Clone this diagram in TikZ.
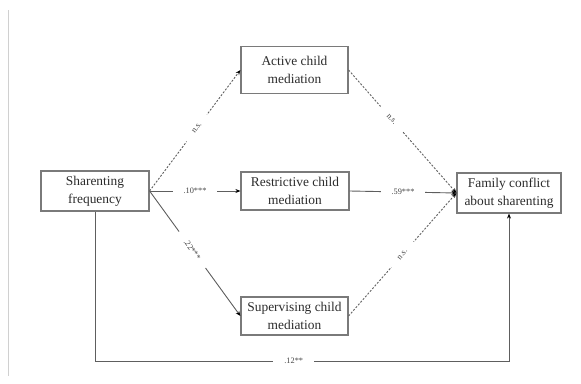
\documentclass[tikz,border=0pt]{standalone}
\usepackage{fontspec}
\setmainfont{Liberation Serif}
\usetikzlibrary{arrows.meta}
\definecolor{boxgrey}{HTML}{7A7A7A}
\definecolor{linegrey}{HTML}{5E5E5E}
\definecolor{textdark}{HTML}{2B2B2B}
\definecolor{labgrey}{HTML}{444444}
\definecolor{rulegrey}{HTML}{D0D0D0}
\begin{document}
\begin{tikzpicture}[x=1pt,y=-1pt,
  varbox/.style={draw=boxgrey, line width=1.2pt, fill=white, align=center,
    inner sep=0pt, text=textdark, font=\fontsize{13.4}{18}\selectfont},
  effect/.style={draw=linegrey, line width=0.9pt,
    -{Stealth[length=5pt,width=4pt,black]}},
  nsline/.style={effect, dash pattern=on 2pt off 1.6pt},
  coef/.style={fill=white, inner xsep=11pt, inner ysep=1.5pt,
    font=\fontsize{8.3}{9}\selectfont, text=labgrey},
]
\useasboundingbox (0,0) rectangle (581,383);

% page margin rule
\draw[rulegrey, line width=0.8pt] (8,10) -- (8,376);

% variables
\node[varbox, minimum width=108pt, minimum height=40pt] (share) at (95,191)
  {Sharenting\\frequency};
\node[varbox, minimum width=107pt, minimum height=47pt] (active) at (294.5,70)
  {Active child\\mediation};
\node[varbox, minimum width=108pt, minimum height=38pt] (restr) at (295,191)
  {Restrictive child\\mediation};
\node[varbox, minimum width=107pt, minimum height=38pt] (superv) at (294.5,316)
  {Supervising child\\mediation};
\node[varbox, minimum width=104pt, minimum height=40pt] (family) at (509,193)
  {Family conflict\\about sharenting};

% turning points of the direct path
\coordinate (bl) at (95,361);
\coordinate (br) at (509,361);

% paths from predictor to mediators
\draw[nsline] (share.east) -- node[coef, sloped, pos=0.52] {n.s.} (active.west);
\draw[effect] (share.east) -- node[coef, pos=0.5] {.10***} (restr.west);
\draw[effect] (share.east) -- node[coef, sloped, pos=0.47] {.22***} (superv.west);

% paths from mediators to outcome
\draw[nsline] (active.east) -- node[coef, sloped, pos=0.4] {n.s.} (family.west);
\draw[effect] (restr.east) -- node[coef, pos=0.5] {.59***} (family.west);
\draw[nsline] (superv.east) -- node[coef, sloped, pos=0.5] {n.s.} (family.west);

% direct path
\draw[effect] (share.south) -- (bl) -- node[coef, pos=0.48] {.12**} (br) -- (family.south);
\end{tikzpicture}
\end{document}
